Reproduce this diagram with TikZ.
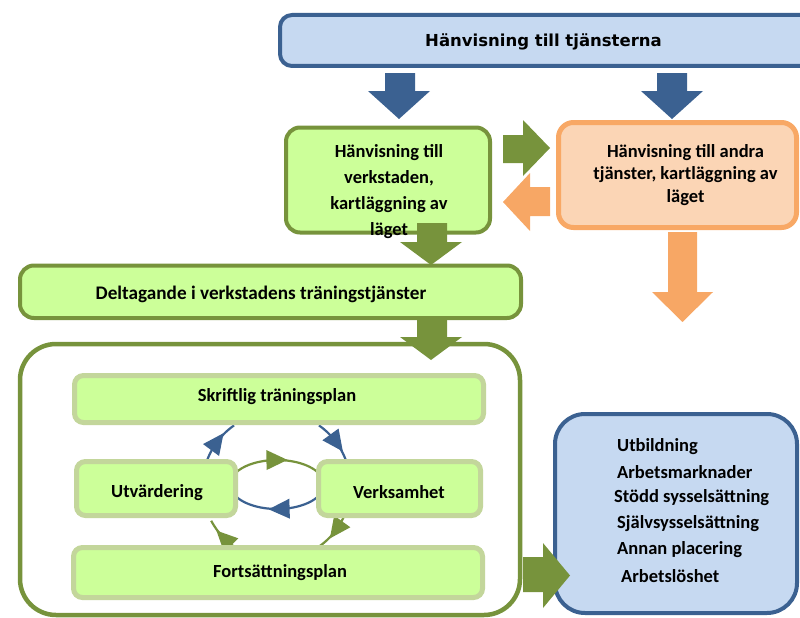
\documentclass[tikz,border=0pt]{standalone}
\usepackage{fontspec}
\setmainfont{Carlito}
\newfontfamily\verdfont{DejaVu Sans}
\usetikzlibrary{decorations.markings,calc}
\definecolor{bblue}{HTML}{3B6191}
\definecolor{bfill}{HTML}{C6D9F1}
\definecolor{gline}{HTML}{77933C}
\definecolor{gfill}{HTML}{CCFF99}
\definecolor{iline}{HTML}{C3D69B}
\definecolor{oline}{HTML}{F8A865}
\definecolor{ofill}{HTML}{FBD5B5}
\definecolor{oarrow}{HTML}{F7A765}
\begin{document}
\begin{tikzpicture}[x=1pt,y=-1pt,
  tx/.style={font=\bfseries\fontsize{18.5}{26}\selectfont, align=center, inner sep=0pt},
  rtx/.style={font=\bfseries\fontsize{18.5}{26}\selectfont, anchor=west, inner sep=0pt},
  gbox/.style={draw=gline, line width=4pt, fill=gfill, rounded corners=14pt, inner sep=0pt},
  ibox/.style={draw=iline, line width=5pt, fill=gfill, rounded corners=9pt, inner sep=0pt},
  bbox/.style={draw=bblue, line width=4pt, fill=bfill, inner sep=0pt},
  obox/.style={draw=oline, line width=5pt, fill=ofill, rounded corners=15pt, inner sep=0pt},
  barrow/.style={fill=bblue, draw=none},
  garrow/.style={fill=gline, draw=none},
  oarr/.style={fill=oarrow, draw=none},
  midtip/.style={postaction={decorate}, decoration={markings,
     mark=at position 0.5 with {\fill (11pt,0pt) -- (-10pt,-10pt) -- (-10pt,10pt) -- cycle;}}},
  cyb/.style={draw=bblue, fill=none, line width=2.2pt, midtip, bblue},
  cyg/.style={draw=gline, fill=none, line width=2.2pt, midtip, gline}]
\useasboundingbox (0,0) rectangle (800,618);
\clip (0,0) rectangle (800,618);

% top box
\node[bbox, rounded corners=12pt, minimum width=560pt, minimum height=51pt] (top) at (560,40.5) {};
% blue arrows
\path[barrow] (385,73) -- (415,73) -- (415,91) -- (430,91) -- (399,119) -- (368,91) -- (385,91) -- cycle;
\path[barrow] (657,73) -- (687,73) -- (687,91) -- (703,91) -- (672,119) -- (641,91) -- (657,91) -- cycle;

% box 1 and orange box
\node[gbox, minimum width=204pt, minimum height=105pt] (b1) at (388,180) {};
\node[obox, minimum width=238pt, minimum height=105pt] (ob) at (677.5,175) {};

% Deltagande
\node[gbox, minimum width=501pt, minimum height=52.5pt] (del) at (270.5,291.75) {};

% big box
\node[draw=gline, line width=4.5pt, fill=white, rounded corners=36pt, minimum width=500pt, minimum height=271pt, inner sep=0pt] (big) at (270,479.5) {};

% result box
\node[bbox, rounded corners=30pt, minimum width=242pt, minimum height=199pt] (res) at (676,513.5) {};

% cycle arcs
\coordinate (cc) at (276.5,486);
\coordinate (ce) at (277,484.5);
\draw[cyb] ($(cc)+(198:74)$) arc[start angle=198, end angle=235, radius=74];
\draw[cyb] ($(cc)+(305:74)$) arc[start angle=305, end angle=343, radius=74];
\draw[cyg] ($(cc)+(17:74)$) arc[start angle=17, end angle=55, radius=74];
\draw[cyg] ($(cc)+(118:74)$) arc[start angle=118, end angle=152, radius=74];
\draw[cyg] ($(ce)+(205:47 and 24.5)$) arc[start angle=205, end angle=333, x radius=47, y radius=24.5];
\draw[cyb] ($(ce)+(20:47 and 24.5)$) arc[start angle=20, end angle=150, x radius=47, y radius=24.5];

% inner boxes
\node[ibox, minimum width=409pt, minimum height=47pt] (skr) at (279,399) {};
\node[ibox, minimum width=159pt, minimum height=54pt] (utv) at (156,488.5) {};
\node[ibox, minimum width=162pt, minimum height=54pt] (ver) at (399.5,488.5) {};
\node[ibox, minimum width=409pt, minimum height=50pt] (fort) at (278,572.5) {};

% block arrows
\path[garrow] (503,135) -- (523,135) -- (523,120) -- (550,148) -- (523,176) -- (523,163) -- (503,163) -- cycle;
\path[oarr] (550,187) -- (530,187) -- (530,173) -- (503,202) -- (530,231) -- (530,216) -- (550,216) -- cycle;
\path[oarr] (668,232) -- (697,232) -- (697,292) -- (713,292) -- (682.5,322) -- (652,292) -- (668,292) -- cycle;
\path[garrow] (417,223) -- (447,223) -- (447,242) -- (462,242) -- (431,265) -- (400,242) -- (417,242) -- cycle;
\path[garrow] (417,320) -- (447,320) -- (447,337) -- (462,337) -- (431,360) -- (400,337) -- (417,337) -- cycle;
\path[garrow] (523,557) -- (543,557) -- (543,543) -- (570,575.5) -- (543,608) -- (543,592) -- (523,592) -- cycle;

% texts
\node[font=\verdfont\bfseries\fontsize{16.5}{20}\selectfont, inner sep=0pt] (ttop) at (543.5,42) {Hänvisning till tjänsterna};
\node[tx] (tb1) at (389,192) {Hänvisning till\\verkstaden,\\kartläggning av\\läget};
\node[tx, font=\bfseries\fontsize{18.5}{22.5}\selectfont] (tob) at (685.5,175) {Hänvisning till andra\\tjänster, kartläggning av\\läget};
\node[tx, font=\bfseries\fontsize{19.2}{26}\selectfont] (tdel) at (261,294) {Deltagande i verkstadens träningstjänster};
\node[tx] (tskr) at (277,397) {Skriftlig träningsplan};
\node[tx] (tutv) at (157,493) {Utvärdering};
\node[tx] (tver) at (399,492) {Verksamhet};
\node[tx] (tfort) at (280,573) {Fortsättningsplan};
\node[rtx] (r1) at (617,447) {Utbildning};
\node[rtx] (r2) at (617,472) {Arbetsmarknader};
\node[rtx] (r3) at (614,498) {Stödd sysselsättning};
\node[rtx] (r4) at (617,524) {Självsysselsättning};
\node[rtx] (r5) at (617,550) {Annan placering};
\node[rtx] (r6) at (621,576) {Arbetslöshet};
\end{tikzpicture}
\end{document}
